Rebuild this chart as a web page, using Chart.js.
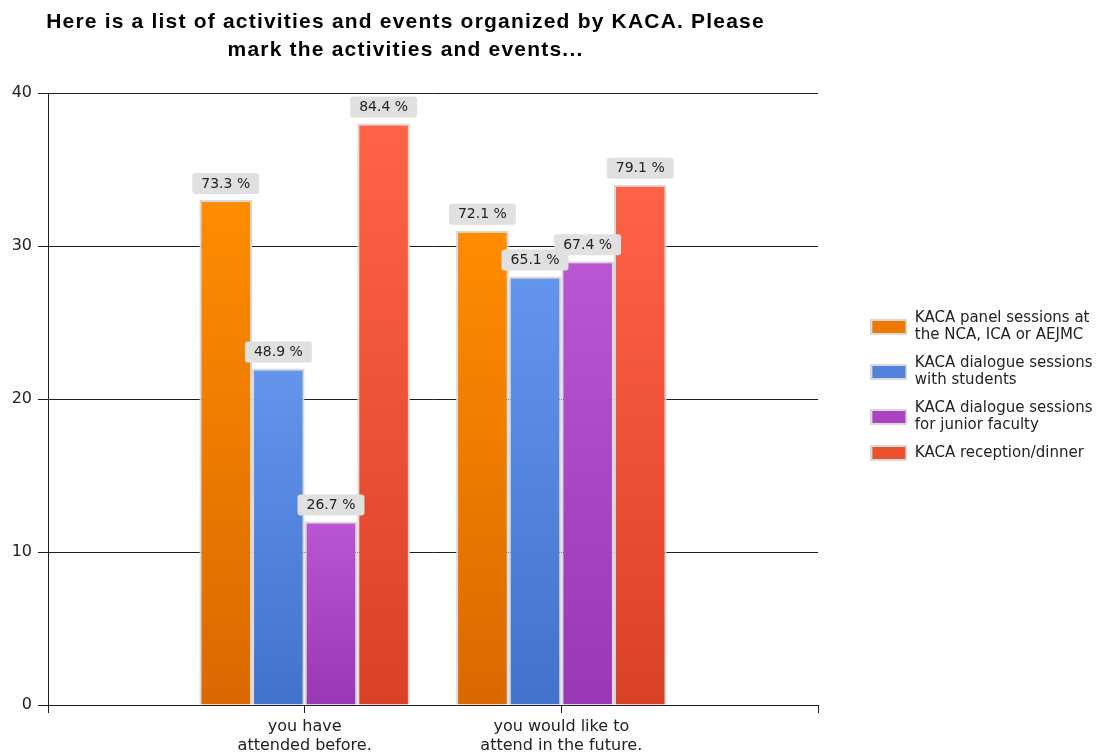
<!DOCTYPE html>
<html>
<head>
<meta charset="utf-8">
<script src="https://cdn.jsdelivr.net/npm/chart.js@4.4.1/dist/chart.umd.min.js"></script>
<style>
  html, body { margin: 0; padding: 0; background: #ffffff; }
  #wrap { width: 1110px; height: 754px; position: relative; }
</style>
</head>
<body>
<div id="wrap"><canvas id="c" width="1110" height="754"></canvas></div>
<script>
// ---------- data ----------
const titleLines = ['Here is a list of activities and events organized by KACA. Please', 'mark the activities and events...'];
const categories = [['you have', 'attended before.'], ['you would like to', 'attend in the future.']];
const seriesNames = [
  ['KACA panel sessions at', 'the NCA, ICA or AEJMC'],
  ['KACA dialogue sessions', 'with students'],
  ['KACA dialogue sessions', 'for junior faculty'],
  ['KACA reception/dinner']
];
const panelCounts = [33, 31];
const studentCounts = [22, 28];
const juniorCounts = [12, 29];
const receptionCounts = [38, 34];
const panelPct = [73.3, 72.1];
const studentPct = [48.9, 65.1];
const juniorPct = [26.7, 67.4];
const receptionPct = [84.4, 79.1];
const yTicks = [0, 10, 20, 30, 40];

// ---------- styling ----------
const topColors = ['#FF8C00', '#6495ED', '#BA55D3', '#FF6347'];
const bottomColors = ['#D96900', '#4273CC', '#9A37B4', '#D94126'];
const swatchColors = ['#EC7A00', '#5283DC', '#A943C2', '#E9512F'];
const PAD_R = 7.5;

Chart.defaults.font.family = '"DejaVu Sans", Verdana, sans-serif';
Chart.defaults.color = '#222';

// categories padded with an empty slot on both sides (axis runs 0..3)
const labels = [''].concat(categories, ['']);
const pad = arr => [null].concat(arr, [null]);
const countSeries = [panelCounts, studentCounts, juniorCounts, receptionCounts];
const pctSeries = [panelPct, studentPct, juniorPct, receptionPct];

function gradientFor(i) {
  return function (ctx) {
    const chart = ctx.chart;
    const v = ctx.raw;
    if (!chart.chartArea || v == null || ctx.type !== 'data') return topColors[i];
    const ys = chart.scales.y;
    const g = chart.ctx.createLinearGradient(0, ys.getPixelForValue(v), 0, ys.getPixelForValue(0));
    g.addColorStop(0, topColors[i]);
    g.addColorStop(1, bottomColors[i]);
    return g;
  };
}

function makeSwatch(color, lines) {
  const off = lines > 1 ? 9 : 0;
  const c = document.createElement('canvas');
  c.width = 37; c.height = 16 + 2 * off;
  const g = c.getContext('2d');
  g.fillStyle = '#d9d9d9';
  g.fillRect(0, 2 * off, 37, 16);
  g.fillStyle = color;
  g.fillRect(2, 2 * off + 2, 33, 12);
  return c;
}

const datasets = countSeries.map((vals, i) => ({
  label: seriesNames[i].join(' '),
  data: pad(vals),
  pct: pad(pctSeries[i]),
  backgroundColor: gradientFor(i),
  borderColor: '#d9d9d9',
  borderWidth: 2,
  borderSkipped: 'bottom',
  categoryPercentage: 0.82,
  barPercentage: 1.0
}));

const barLabels = {
  id: 'barLabels',
  afterDatasetsDraw(chart) {
    const ctx = chart.ctx;
    ctx.save();
    ctx.font = '14px "DejaVu Sans"';
    ctx.textAlign = 'center';
    ctx.textBaseline = 'middle';
    chart.data.datasets.forEach((ds, i) => {
      const meta = chart.getDatasetMeta(i);
      meta.data.forEach((el, j) => {
        if (ds.data[j] == null) return;
        const txt = ds.pct[j].toFixed(1) + ' %';
        const w = ctx.measureText(txt).width + 18, h = 21;
        const x = el.x - w / 2, y = el.y - 6 - h;
        ctx.fillStyle = '#e0e0e0';
        ctx.beginPath();
        ctx.roundRect(x, y, w, h, 3);
        ctx.fill();
        ctx.fillStyle = '#222';
        ctx.fillText(txt, el.x, y + h / 2 + 0.5);
      });
    });
    ctx.restore();
  }
};

const layoutFix = {
  id: 'layoutFix',
  afterLayout(chart) {
    const t = chart.titleBlock;
    if (t) {
      t.left = 0; t.right = 811; t.width = 811;
      if (!t._lsPatched) {
        const orig = t.draw;
        t.draw = function () {
          const c = this.ctx;
          c.save();
          c.letterSpacing = '1.2px';
          orig.apply(this, arguments);
          c.restore();
        };
        t._lsPatched = true;
      }
    }
  }
};

new Chart(document.getElementById('c'), {
  type: 'bar',
  data: { labels: labels, datasets: datasets },
  plugins: [barLabels, layoutFix],
  options: {
    responsive: false,
    animation: false,
    events: [],
    layout: { padding: { top: 19, right: PAD_R, bottom: 0, left: 0 } },
    scales: {
      x: {
        type: 'category',
        offset: false,
        grid: { offset: false, drawOnChartArea: false, drawTicks: true, tickLength: 8, color: '#1e1e1e', lineWidth: 1 },
        border: { display: true, color: '#1e1e1e', width: 1 },
        ticks: { autoSkip: false, maxRotation: 0, minRotation: 0, padding: 4, color: '#222',
                 font: { size: 16, lineHeight: 1.2 } },
        afterFit: s => { s.height = 49; }
      },
      y: {
        min: 0, max: 40,
        ticks: { stepSize: 10, padding: 6, color: '#222', font: { size: 16 } },
        afterBuildTicks: s => { s.ticks = yTicks.map(v => ({ value: v })); },
        grid: { color: '#1e1e1e', lineWidth: 1, drawTicks: true, tickLength: 10 },
        border: { display: true, color: '#1e1e1e', width: 1 },
        afterFit: s => { s.width = 48; }
      },
      y2: {
        display: false,
        position: 'right',
        afterFit: s => {
          const lg = s.chart.legend;
          const lw = lg && lg.width ? lg.width : 0;
          s.width = Math.max(0, s.chart.width - PAD_R - lw - 818);
        }
      }
    },
    plugins: {
      title: {
        display: true,
        fullSize: false,
        position: 'top',
        text: titleLines,
        color: '#000',
        font: { family: '"Liberation Sans", Arial, sans-serif', size: 21, weight: 'bold', lineHeight: 28 / 21 },
        padding: { top: -11, bottom: 29 }
      },
      legend: {
        display: true,
        position: 'right',
        align: 'center',
        labels: {
          usePointStyle: true,
          pointStyleWidth: 37,
          padding: 11,
          color: '#222',
          font: { size: 15, lineHeight: 17 / 15 },
          generateLabels: chart => chart.data.datasets.map((ds, i) => ({
            text: seriesNames[i],
            fillStyle: swatchColors[i],
            strokeStyle: 'rgba(0,0,0,0)',
            lineWidth: 0,
            hidden: false,
            datasetIndex: i,
            pointStyle: makeSwatch(swatchColors[i], seriesNames[i].length),
            fontColor: '#222'
          }))
        }
      },
      tooltip: { enabled: false }
    }
  }
});
</script>
</body>
</html>
